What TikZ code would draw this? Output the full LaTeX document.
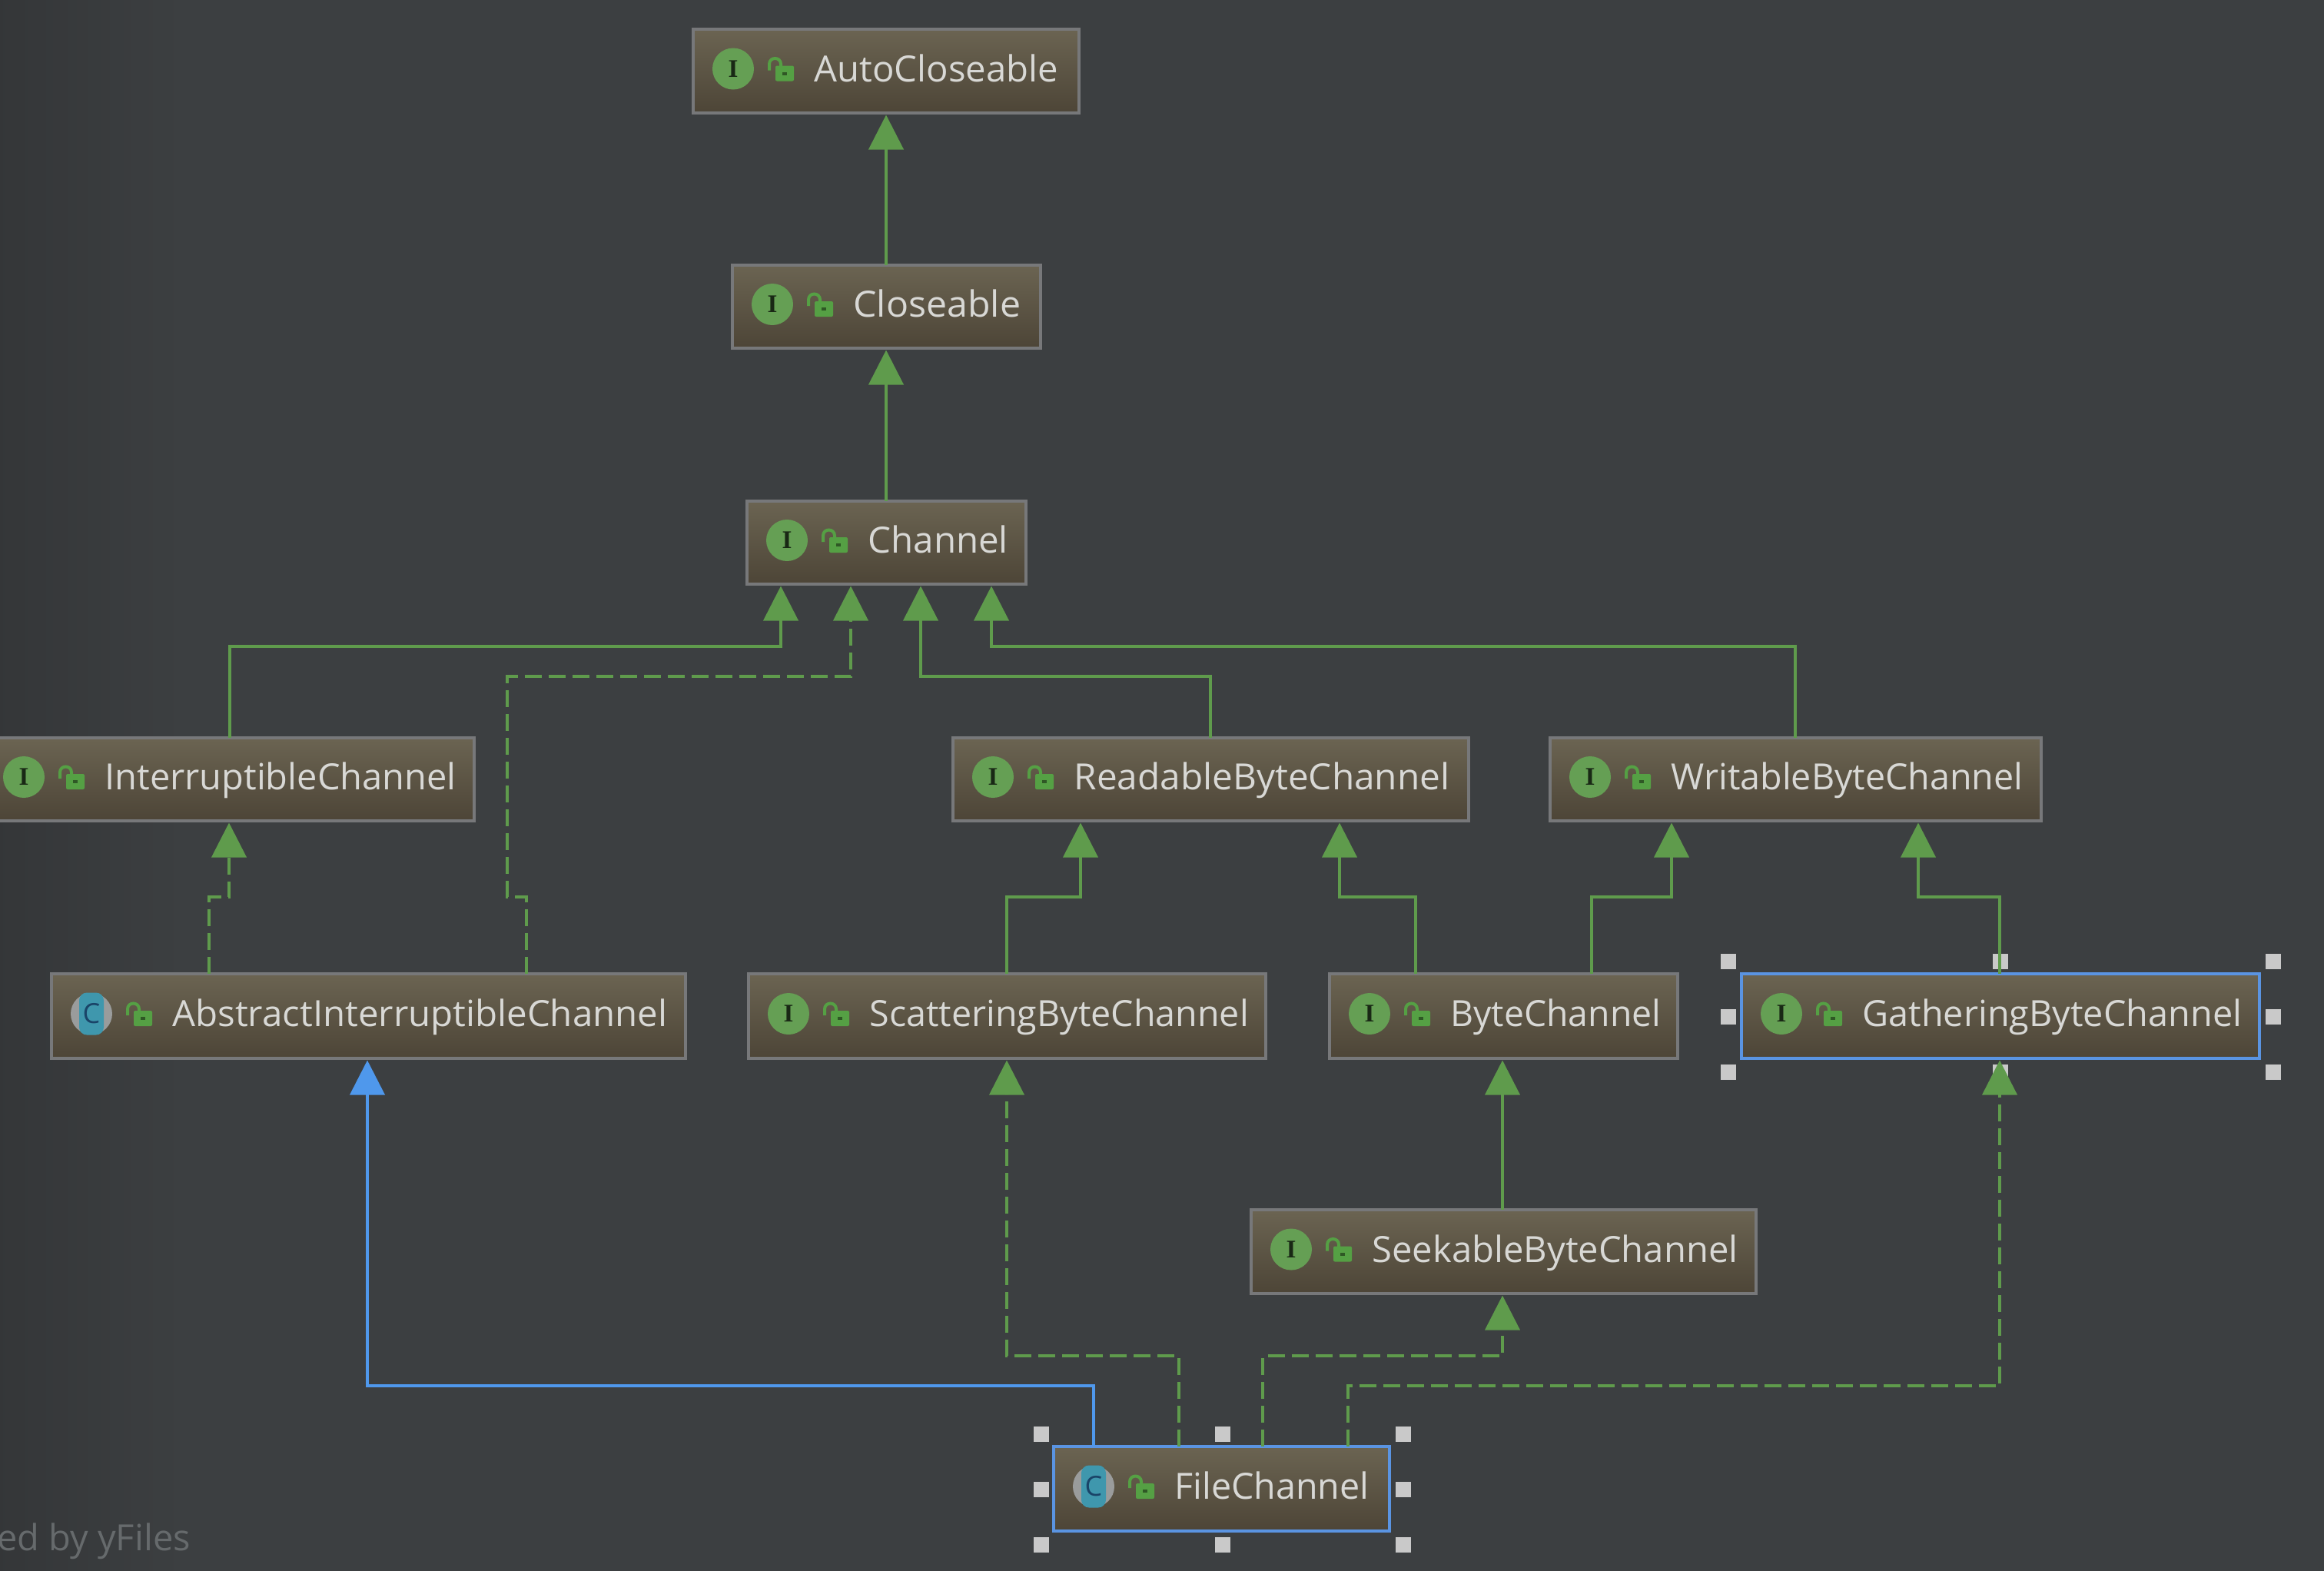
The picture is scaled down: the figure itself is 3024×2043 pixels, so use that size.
\documentclass[tikz,border=0pt]{standalone}
\usepackage{fontspec}
\usepackage{graphicx}
\setmainfont{Open Sans}
\newfontfamily\slabfont{Liberation Serif}
\usetikzlibrary{arrows.meta}
\definecolor{bgc}{HTML}{3C3F41}
\definecolor{bgd}{HTML}{343638}
\definecolor{boxtop}{HTML}{6B6452}
\definecolor{boxbot}{HTML}{4D4537}
\definecolor{boxline}{HTML}{77787A}
\definecolor{selline}{HTML}{5A94E2}
\definecolor{grn}{HTML}{5F9B4C}
\definecolor{grnicon}{HTML}{659F54}
\definecolor{lockgrn}{HTML}{55A044}
\definecolor{blu}{HTML}{4F98EC}
\definecolor{txt}{HTML}{D8D8D5}
\definecolor{handlec}{HTML}{C9C9C9}
\definecolor{teal}{HTML}{3F97AD}
\definecolor{greyc}{HTML}{9A9C9C}
\definecolor{wm}{HTML}{666A6C}
\definecolor{cdark}{HTML}{1A4468}
\tikzset{
  umlbox/.style={rectangle,draw=boxline,line width=4pt,top color=boxtop,bottom color=boxbot,
    inner sep=0pt,outer sep=0pt,text=txt,font=\fontsize{47}{50}\selectfont,text height=40pt,text depth=12pt},
  selbox/.style={umlbox,draw=selline},
  ifaceicon/.style={circle,fill=grnicon,minimum size=54pt,inner sep=0pt,text=black!75!grnicon,font=\slabfont\bfseries\fontsize{33}{33}\selectfont},
  clsring/.style={circle,fill=greyc,minimum size=54pt,inner sep=0pt},
  clsicon/.style={rectangle,rounded corners=10pt,fill=teal,minimum width=32pt,minimum height=55pt,inner sep=0pt,text=cdark,font=\fontsize{36}{36}\selectfont},
  handle/.style={rectangle,fill=handlec,minimum size=20pt,inner sep=0pt},
  lineb/.style={line width=4pt},
  ext/.style={lineb,draw=grn,-{Triangle[length=45pt,width=45pt,fill=grn]},shorten >=3pt},
  impl/.style={ext,dash pattern=on 22pt off 9pt},
  extsel/.style={lineb,draw=blu,-{Triangle[length=45pt,width=45pt,fill=blu]},shorten >=3pt},
}
\newcommand{\sx}[2]{\scalebox{#1}[1]{#2}}
% name, x1, y1, x2, y2, style, I/C, text
\newcommand{\umlnode}[8]{%
  \pgfmathsetmacro{\bw}{#4-#2-2}\pgfmathsetmacro{\bh}{#5-#3-2}%
  \pgfmathsetmacro{\cx}{(#2+#4+1)/2}\pgfmathsetmacro{\cy}{(#3+#5+1)/2}%
  \pgfmathsetmacro{\ix}{#2+54}%
  \node[#6,minimum width=\bw pt,minimum height=\bh pt] (#1) at (\cx,\cy) {\makebox[\bw pt][l]{\hspace{158pt}#8}};
  \begin{scope}[shift={(\ix,\cy-2.5)}]
    \if#7I
      \node[ifaceicon] (#1-icon) at (0,0) {I};
    \else
      \node[clsring] (#1-ring) at (0,0) {};
      \node[clsicon] (#1-icon) at (0,0) {C};
    \fi
    \fill[lockgrn,rounded corners=2pt] (55,-4) rectangle (79,16);
    \fill[black!45!lockgrn] (64,4) rectangle (70,8);
    \draw[lockgrn,line width=4pt] (47,2) -- (47,-6) .. controls (47,-16) and (62,-16) .. (62,-6) -- (62,-2);
  \end{scope}
}
\begin{document}
\begin{tikzpicture}[x=1pt,y=-1pt]
\useasboundingbox (0,0) rectangle (3024,2043);
\fill[bgc] (-10,-10) rectangle (3034,2053);
\shade[left color=bgd,right color=bgc] (-10,-10) rectangle (240,2053);

\umlnode{auto}{900}{36}{1404}{147}{umlbox}{I}{\sx{1.006}{AutoCloseable}}
\umlnode{closeable}{951}{343}{1354}{453}{umlbox}{I}{\sx{1.027}{Closeable}}
\umlnode{channel}{970}{650}{1335}{760}{umlbox}{I}{\sx{1.01}{Channel}}
\umlnode{interr}{-23}{958}{617}{1068}{umlbox}{I}{InterruptibleChannel}
\umlnode{readable}{1238}{958}{1911}{1068}{umlbox}{I}{\sx{1.016}{ReadableByteChannel}}
\umlnode{writable}{2015}{958}{2656}{1068}{umlbox}{I}{\sx{0.992}{WritableByteChannel}}
\umlnode{abstract}{65}{1265}{892}{1377}{umlbox}{C}{\sx{1.009}{AbstractInterruptibleChannel}}
\umlnode{scatter}{972}{1265}{1647}{1377}{umlbox}{I}{\sx{0.992}{ScatteringByteChannel}}
\umlnode{byte}{1728}{1265}{2183}{1377}{umlbox}{I}{\sx{0.986}{ByteChannel}}
\umlnode{gather}{2264}{1265}{2940}{1377}{selbox}{I}{\sx{0.996}{GatheringByteChannel}}
\umlnode{seek}{1626}{1572}{2285}{1683}{umlbox}{I}{\sx{1.004}{SeekableByteChannel}}
\umlnode{file}{1369}{1880}{1808}{1992}{selbox}{C}{\sx{0.992}{FileChannel}}

\foreach \hn/\hx/\hy in {a/2249/1251,b/2603/1251,c/2958/1251,d/2249/1323,e/2958/1323,f/2249/1395,g/2603/1395,h/2958/1395}
  \node[handle] (gh\hn) at (\hx,\hy) {};
\foreach \hn/\hx/\hy in {a/1355/1866,b/1591/1866,c/1826/1866,d/1355/1938,e/1826/1938,f/1355/2010,g/1591/2010,h/1826/2010}
  \node[handle] (fh\hn) at (\hx,\hy) {};

\draw[ext] (closeable.north -| 1153,0) -- (auto.south -| 1153,0);
\draw[ext] (channel.north -| 1153,0) -- (closeable.south -| 1153,0);

\draw[ext]  (interr.north -| 299,0) -- (299,841) -- (1016,841) -- (channel.south -| 1016,0);
\draw[impl] (abstract.north -| 685,0) -- (685,1167) -- (660,1167) -- (660,880) -- (1107,880) -- (channel.south -| 1107,0);
\draw[ext]  (readable.north -| 1575,0) -- (1575,880) -- (1198,880) -- (channel.south -| 1198,0);
\draw[ext]  (writable.north -| 2336,0) -- (2336,841) -- (1290,841) -- (channel.south -| 1290,0);

\draw[impl] (abstract.north -| 272,0) -- (272,1167) -- (298,1167) -- (interr.south -| 298,0);
\draw[ext]  (scatter.north -| 1310,0) -- (1310,1167) -- (1406,1167) -- (readable.south -| 1406,0);
\draw[ext]  (byte.north -| 1842,0) -- (1842,1167) -- (1743,1167) -- (readable.south -| 1743,0);
\draw[ext]  (byte.north -| 2071,0) -- (2071,1167) -- (2175,1167) -- (writable.south -| 2175,0);
\draw[ext]  (gather.north -| 2602,0) -- (2602,1167) -- (2496,1167) -- (writable.south -| 2496,0);

\draw[ext]  (seek.north -| 1955,0) -- (byte.south -| 1955,0);
\draw[extsel] (file.north -| 1423,0) -- (1423,1803) -- (478,1803) -- (abstract.south -| 478,0);
\draw[impl] (file.north -| 1534,0) -- (1534,1764) -- (1310,1764) -- (scatter.south -| 1310,0);
\draw[impl] (file.north -| 1643,0) -- (1643,1764) -- (1955,1764) -- (seek.south -| 1955,0);
\draw[impl] (file.north -| 1754,0) -- (1754,1803) -- (2602,1803) -- (gather.south -| 2602,0);

\node[anchor=base east,inner sep=0pt,text=wm,font=\fontsize{47}{50}\selectfont] (yfiles) at (248,2017) {ed by yFiles};
\end{tikzpicture}
\end{document}
